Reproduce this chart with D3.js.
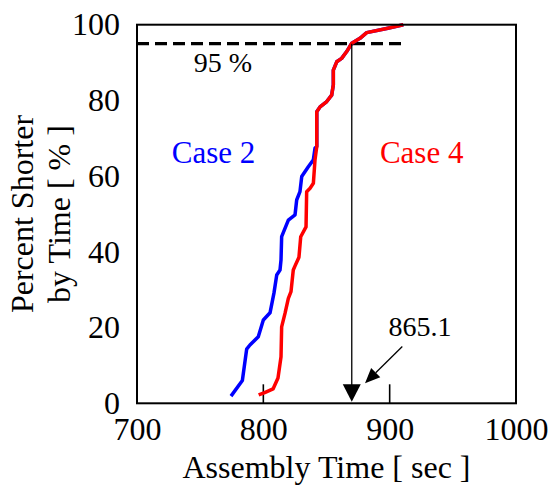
<!DOCTYPE html>
<html><head><meta charset="utf-8">
<script src="https://cdn.jsdelivr.net/npm/d3@7"></script>
<style>body{margin:0;background:#fff}svg{display:block}text{font-family:"Liberation Serif","Times New Roman",serif;fill:#000}</style>
</head><body><svg id="c" width="548" height="485"></svg>
<script>
const xTicks=[700,800,900,1000];
const yTicks=[0,20,40,60,80,100];
const case2Time=[774.4,783.4,786.8,789.4,796.0,800.0,805.3,808.4,810.6,813.2,814.0,814.5,819.8,825.1,826.4,829.0,830.4,835.6,839.6,840.9,842.3,842.3,844.9,850.2,854.1,855.4,855.4,858.1,862.0,866.0,870.0,876.5,881.8,897.6,910.8];
const case2Pct=[1.9,6.0,14.3,15.4,17.6,22.0,23.9,29.1,33.9,35.2,37.9,44.0,48.4,49.8,53.7,55.9,59.9,62.5,64.3,67.4,67.8,77.0,78.3,79.7,81.4,84.1,88.0,90.2,91.1,92.9,95.1,96.4,97.9,99.0,100];
const case4Time=[796.3,801.1,807.7,811.6,814.0,814.5,817.2,819.8,821.9,823.7,825.1,828.2,829.6,833.8,834.3,837.0,839.6,840.9,842.3,842.3,844.9,850.2,854.1,855.4,855.4,858.1,862.0,866.0,870.0,876.5,881.8,897.6,910.8];
const case4Pct=[2.2,2.8,3.8,6.7,12.3,20.2,23.8,27.7,29.5,35.2,36.3,38.6,44.0,46.6,55.9,56.8,58.1,64.3,67.8,77.0,78.3,79.7,81.4,84.1,88.0,90.2,91.1,92.9,95.1,96.4,97.9,99.0,100];
const pct95=95, dashEnd=912.7, markTime=870, markLabel="865.1";

const FF='"Liberation Serif","Times New Roman",serif';
const svg=d3.select("#c");
const L=137,R=516,T=24.7,B=403.3;
const x=d3.scaleLinear().domain([700,1000]).range([L,R]);
const y=d3.scaleLinear().domain([0,100]).range([B,T]);

const gx=svg.append("g").attr("transform",`translate(0,${B})`).call(d3.axisBottom(x).tickValues(xTicks).tickSize(0).tickPadding(14).tickFormat(d3.format("d")));
gx.attr("font-family",FF);
gx.select(".domain").remove();
gx.selectAll("text").attr("font-size",32).attr("dy","0.7em").style("font-family",FF).attr("fill","#000");
const gy=svg.append("g").attr("transform",`translate(${L},0)`).call(d3.axisLeft(y).tickValues(yTicks).tickSize(0).tickPadding(17));
gy.attr("font-family",FF);
gy.select(".domain").remove();
gy.selectAll("text").attr("font-size",32).style("font-family",FF).attr("fill","#000");

svg.selectAll(".itk").data([800,900]).join("line")
 .attr("x1",d=>x(d)).attr("x2",d=>x(d)).attr("y1",B).attr("y2",B-19)
 .attr("stroke","#000").attr("stroke-width",1.6);

svg.append("line").attr("x1",x(700)).attr("x2",x(dashEnd)).attr("y1",y(pct95)).attr("y2",y(pct95))
 .attr("stroke","#000").attr("stroke-width",3.2).attr("stroke-dasharray","12,6");

const line=d3.line().x(d=>x(d[0])).y(d=>y(d[1]));
svg.append("path").datum(case2Time.map((t,i)=>[t,case2Pct[i]])).attr("d",line)
 .attr("fill","none").attr("stroke","#0000ff").attr("stroke-width",3.5).attr("stroke-linejoin","round");
svg.append("path").datum(case4Time.map((t,i)=>[t,case4Pct[i]])).attr("d",line)
 .attr("fill","none").attr("stroke","#ff0000").attr("stroke-width",3.5).attr("stroke-linejoin","round");

const vx=x(markTime);
svg.append("line").attr("x1",vx).attr("x2",vx).attr("y1",y(pct95)).attr("y2",B-16)
 .attr("stroke","#000").attr("stroke-width",1.3);
svg.append("path").attr("d",`M${vx},${B-1.5} L${vx-9},${B-19} L${vx+9},${B-19} Z`).attr("fill","#000");

const ax0=x(910.0),ay0=y(15.0),ax1=x(880.5),ay1=y(5.3);
const ang=Math.atan2(ay1-ay0,ax1-ax0);
const hl=15,hw=6.5;
const bx=ax1-hl*Math.cos(ang),by=ay1-hl*Math.sin(ang);
svg.append("line").attr("x1",ax0).attr("y1",ay0).attr("x2",bx).attr("y2",by).attr("stroke","#000").attr("stroke-width",1.3);
svg.append("path").attr("d",`M${ax1},${ay1} L${bx+hw*Math.sin(ang)},${by-hw*Math.cos(ang)} L${bx-hw*Math.sin(ang)},${by+hw*Math.cos(ang)} Z`).attr("fill","#000");

svg.append("text").attr("x",x(924)).attr("y",y(17.8)).attr("text-anchor","middle").attr("font-size",28).text(markLabel);
svg.append("text").attr("x",x(745)).attr("y",y(87.6)).attr("font-size",28).text("95 %");
svg.append("text").attr("x",x(727.5)).attr("y",y(63.5)).attr("font-size",31).style("fill","#0000ff").text("Case 2");
svg.append("text").attr("x",x(892.3)).attr("y",y(63.5)).attr("font-size",31).style("fill","#ff0000").text("Case 4");

svg.append("rect").attr("x",L).attr("y",T).attr("width",R-L).attr("height",B-T)
 .attr("fill","none").attr("stroke","#000").attr("stroke-width",2);

svg.append("text").attr("x",(L+R)/2).attr("y",477.5).attr("text-anchor","middle").attr("font-size",32).text("Assembly Time [ sec ]");
const yt=svg.append("text").attr("transform",`translate(33,${(T+B)/2}) rotate(-90)`).attr("text-anchor","middle").attr("font-size",32);
yt.append("tspan").attr("x",0).attr("y",0).text("Percent Shorter");
yt.append("tspan").attr("x",0).attr("y",37).text("by Time [ % ]");
</script></body></html>
